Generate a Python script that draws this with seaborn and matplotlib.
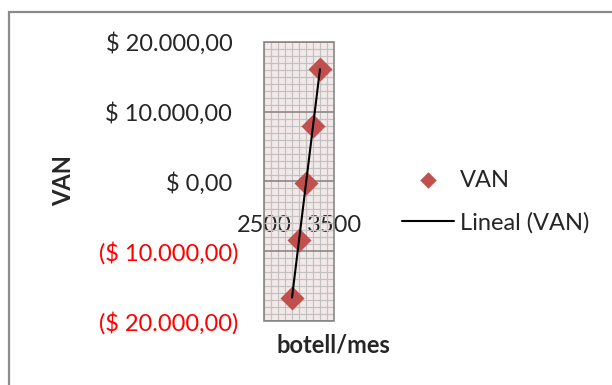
import matplotlib
matplotlib.use("Agg")
import matplotlib.pyplot as plt
from matplotlib.patches import Rectangle
from matplotlib.ticker import FixedLocator, MultipleLocator
from matplotlib.transforms import ScaledTranslation
import numpy as np
import pandas as pd
import seaborn as sns

# Net present value (VAN) against monthly bottle volume
botellas = [2900, 3000, 3100, 3200, 3300]
van = [-16670, -8430, -240, 7900, 16100]

y_ticks = [-20000, -10000, 0, 10000, 20000]
y_labels = ["($ 20.000,00)", "($ 10.000,00)", "$ 0,00", "$ 10.000,00", "$ 20.000,00"]
x_ticks = [2500, 3500]
x_labels = ["2500", "3500"]

df = pd.DataFrame({"botell/mes": botellas, "VAN": van})

sns.set_style("white")
plt.rcParams["font.family"] = ["Lato", "DejaVu Sans"]

FS = 17
MARKER_RED = "#C0504D"
GRID_MAJOR = "#878787"
GRID_MINOR = "#C2C2C2"

fig = plt.figure(figsize=(6.12, 3.85), dpi=100)
fig.patch.set_facecolor("white")
ax = fig.add_axes([264 / 612, 1 - 321 / 385, 70 / 612, 279 / 385])
ax.set_facecolor("#F4E9E9")

sns.scatterplot(data=df, x="botell/mes", y="VAN", marker="D", s=150,
                color=MARKER_RED, linewidth=0, label="VAN", ax=ax, zorder=3)
sns.regplot(data=df, x="botell/mes", y="VAN", scatter=False, ci=None,
            color="black", line_kws={"linewidth": 1.5, "zorder": 4},
            label="Lineal (VAN)", ax=ax)

ax.set_xlim(2500, 3500)
ax.set_ylim(-20000, 20000)

# Gridlines: darker major rows, light minor mesh
ax.xaxis.set_major_locator(FixedLocator(x_ticks))
ax.xaxis.set_minor_locator(MultipleLocator(100))
ax.yaxis.set_major_locator(FixedLocator(y_ticks))
ax.yaxis.set_minor_locator(MultipleLocator(1000))
ax.set_axisbelow(True)
ax.grid(which="minor", axis="both", color=GRID_MINOR, linewidth=0.9)
ax.grid(which="major", axis="y", color=GRID_MAJOR, linewidth=1.2)
ax.grid(which="major", axis="x", color=GRID_MINOR, linewidth=0.9)

for side in ["left", "right", "top"]:
    ax.spines[side].set_visible(False)
ax.spines["bottom"].set_position(("data", 0))
ax.spines["bottom"].set_visible(False)
ax.add_patch(Rectangle((0, 0), 1, 1, transform=ax.transAxes, fill=False,
                       edgecolor=GRID_MAJOR, linewidth=1.2, clip_on=False,
                       zorder=5))

ax.tick_params(axis="x", which="both", length=0, pad=24, labelsize=FS)
ax.tick_params(axis="y", which="major", length=5, width=1.2,
               color=GRID_MAJOR, pad=13.5, labelsize=FS)
ax.tick_params(axis="y", which="minor", length=0)
ax.set_xticklabels(x_labels)
ax.set_yticklabels(y_labels)

ax.set_xlabel("botell/mes", fontsize=FS, fontweight="bold")
ax.xaxis.set_label_coords(0.986, -0.045)
ax.set_ylabel("VAN", fontsize=FS, fontweight="bold")
ax.yaxis.set_label_coords(-2.70, 0.502)

leg = ax.legend(loc="center left", bbox_to_anchor=(402 / 612, 1 - 201.5 / 385),
                bbox_transform=fig.transFigure, frameon=False, fontsize=FS,
                handlelength=2.2, handletextpad=0.25, labelspacing=0.9,
                borderpad=0, borderaxespad=0)
for h in leg.legend_handles:
    if hasattr(h, "set_sizes"):
        h.set_sizes([70])

# Figure frame
fig.add_artist(Rectangle((9 / 612, -0.1), 1.2, 1.1 - 12.3 / 385,
                         transform=fig.transFigure, fill=False,
                         edgecolor="#8C8C8C", linewidth=1.6))

# Negative amounts in red; positive amounts leave room for the closing bracket
shift = ScaledTranslation(-6 / 100, 0, fig.dpi_scale_trans)
for lab, val in zip(ax.get_yticklabels(), y_ticks):
    if val < 0:
        lab.set_color("#FF0000")
    else:
        lab.set_transform(lab.get_transform() + shift)

fig.savefig("out.png", dpi=100)
